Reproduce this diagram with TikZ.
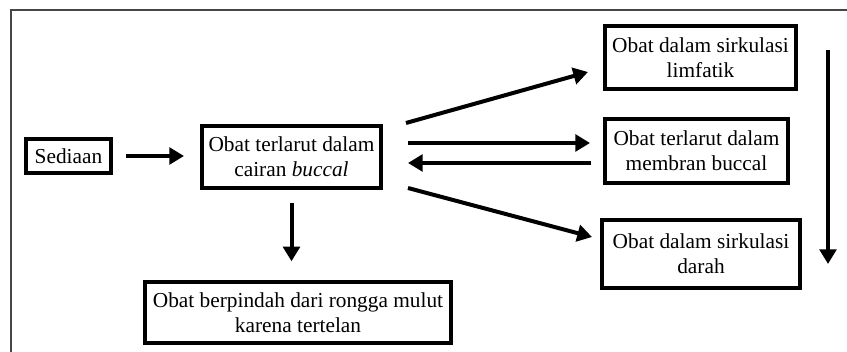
\documentclass[tikz,border=0pt]{standalone}
\usepackage{fontspec}
\setmainfont{Liberation Serif}
\usetikzlibrary{arrows.meta}

\tikzset{every picture/.style={line width=0.75pt}}
\tikzset{
  kotak/.style={draw, line width=3pt, align=center, inner sep=0pt,
    font=\fontsize{16}{19}\selectfont},
  panah/.style={line width=3pt, -{Triangle[length=11pt,width=12.5pt]}}
}

\begin{document}
\begin{tikzpicture}[x=0.75pt,y=0.75pt,yscale=-1,xscale=1]
\path [use as bounding box] (0,0) rectangle (847,352);

%Frame
\draw [color={rgb, 255:red, 70; green, 70; blue, 70 }, line width=1.5] (10.5,352) -- (10.5,10.5) -- (847,10.5) ;

% Text Node
\node [kotak, minimum width=63.75pt, minimum height=25.5pt] (sed) at (68.5,156) {Sediaan};
% Text Node
\node [kotak, minimum width=134.25pt, minimum height=46.5pt] (cair) at (291.5,157) {Obat terlarut dalam\\cairan \textit{buccal}};
% Text Node
\node [kotak, minimum width=229.5pt, minimum height=45.75pt] (telan) at (298,312.5) {Obat berpindah dari rongga mulut\\karena tertelan};
% Text Node
\node [kotak, minimum width=143.25pt, minimum height=47.25pt] (limf) at (700.5,57.5) {Obat dalam sirkulasi\\limfatik};
% Text Node
\node [kotak, minimum width=137.25pt, minimum height=48pt] (memb) at (696.5,151) {Obat terlarut dalam\\membran buccal};
% Text Node
\node [kotak, minimum width=148.5pt, minimum height=51pt] (darah) at (701,254) {Obat dalam sirkulasi\\darah};

%Arrow ends
\coordinate (ka) at (406,123);
\coordinate (kb) at (408,143);
\coordinate (kc) at (408,163);
\coordinate (kd) at (408,188);
\coordinate (na) at (588,72);
\coordinate (nb) at (590,143);
\coordinate (nc) at (591,163);
\coordinate (nd) at (592,237);
\coordinate (atas) at (828,50);
\coordinate (bawah) at (828,264);

%Straight Lines
\draw [panah, shorten <=10pt, shorten >=12pt] (sed) -- (sed -| cair.west) ;
\draw [panah, shorten <=10pt, shorten >=14pt] (cair.south) -- (cair.south |- telan.north) ;
\draw [panah] (ka) -- (na) ;
\draw [panah] (kb) -- (nb) ;
\draw [panah] (nc) -- (kc) ;
\draw [panah] (kd) -- (nd) ;
\draw [panah] (atas) -- (bawah) ;

\end{tikzpicture}
\end{document}
